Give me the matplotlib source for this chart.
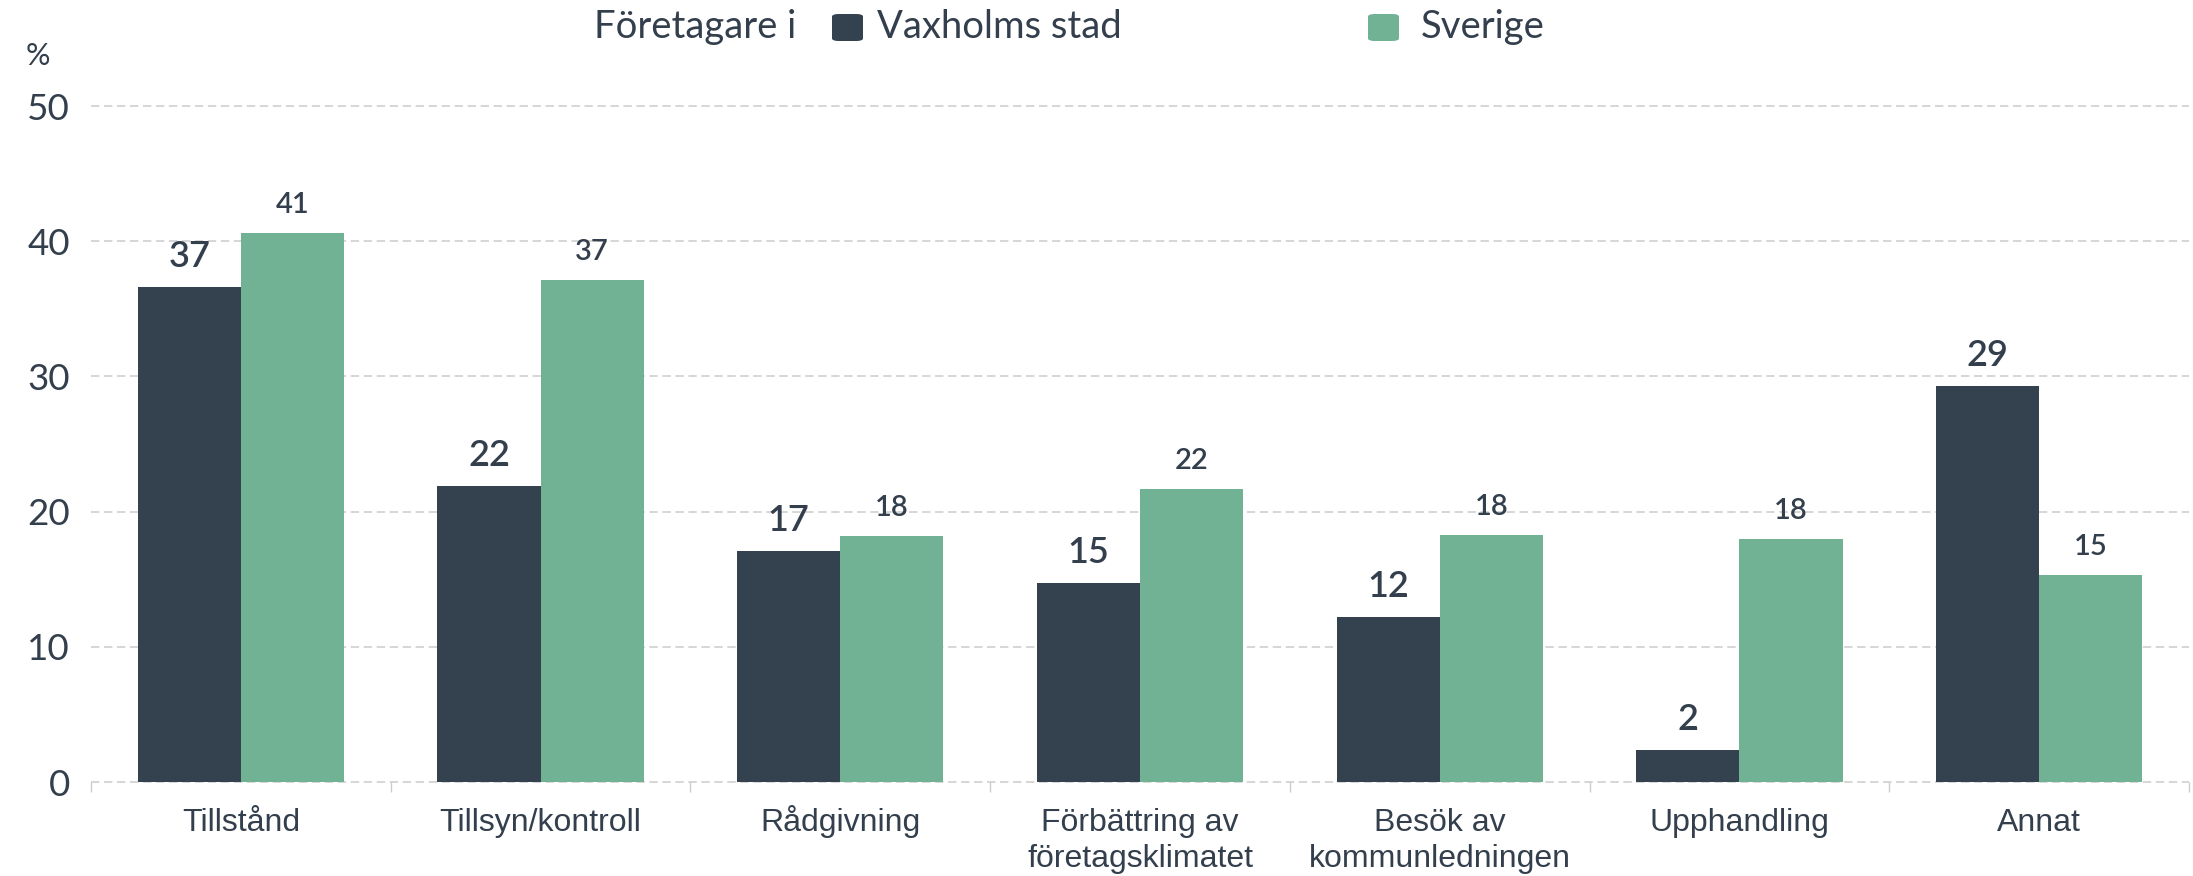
import matplotlib
matplotlib.use("Agg")
import matplotlib.pyplot as plt
from matplotlib.patches import FancyBboxPatch
import numpy as np

categories = ["Tillstånd", "Tillsyn/kontroll", "Rådgivning", "Förbättring av\nföretagsklimatet",
              "Besök av\nkommunledningen", "Upphandling", "Annat"]
series_names = ["Vaxholms stad", "Sverige"]
vaxholm = [36.6, 21.9, 17.1, 14.7, 12.2, 2.4, 29.3]
sverige = [40.6, 37.1, 18.2, 21.7, 18.3, 18.0, 15.3]
yticks = [0, 10, 20, 30, 40, 50]
legend_title = "Företagare i"
unit_label = "%"

DARK = "#34414E"
GREEN = "#71B295"
TEXT = "#333F4C"
GRID = "#CCCCCC"
NUMFONT = ["Lato", "DejaVu Sans"]

fig = plt.figure(figsize=(21.93, 8.76), dpi=100)
ax = fig.add_axes([91/2193, 1-782/876, (2189-91)/2193, (782-106)/876])

x = np.arange(len(categories))
w = 0.344
b1 = ax.bar(x - w/2, vaxholm, w, color=DARK, zorder=3)
b2 = ax.bar(x + w/2, sverige, w, color=GREEN, zorder=3)

ax.set_xlim(-0.5, len(categories) - 0.5)
ax.set_ylim(0, 50)
ax.set_yticks(yticks)
ax.set_yticklabels([str(t) for t in yticks], fontsize=26.5, color=TEXT, family=NUMFONT)
ax.tick_params(axis="y", length=0, pad=15)

ax.set_xticks(np.arange(-0.5, len(categories), 1.0))
ax.set_xticklabels([""] * (len(categories) + 1))
ax.tick_params(axis="x", length=7, width=1, color=GRID)
for i, c in enumerate(categories):
    for j, line in enumerate(c.split("\n")):
        ax.annotate(line, (i, 0), xytext=(0, -35.3 - 25.9 * j), textcoords="offset points",
                    ha="center", va="baseline", fontsize=23, color=TEXT,
                    family=["Liberation Sans", "DejaVu Sans"], annotation_clip=False)

for s in ax.spines.values():
    s.set_visible(False)
for t in yticks:
    ax.axhline(t, color=GRID, lw=1.1, linestyle=(0, (5.5, 3)), zorder=1, clip_on=False)

for rect, v in zip(b1, vaxholm):
    ax.annotate(f"{v:.0f}", (rect.get_x() + rect.get_width()/2, v), xytext=(0, 14.4),
                textcoords="offset points", ha="center", va="baseline", fontsize=26,
                fontweight="semibold", color=TEXT, family=NUMFONT)
for rect, v in zip(b2, sverige):
    ax.annotate(f"{v:.0f}", (rect.get_x() + rect.get_width()/2, v), xytext=(0, 14.4),
                textcoords="offset points", ha="center", va="baseline", fontsize=21,
                fontweight="semibold", color=TEXT, family=NUMFONT)

fig.text(38/2193, 1-56/876, unit_label, ha="center", va="center", fontsize=22, color=TEXT,
         family=NUMFONT)

# legend
ly = 1 - 27/876
fig.text(594/2193, ly, legend_title, ha="left", va="center", fontsize=27.5, color=TEXT,
         family=NUMFONT)
for (x0, name, col, tx) in [(832, series_names[0], DARK, 877), (1368, series_names[1], GREEN, 1421)]:
    p = FancyBboxPatch((x0/2193, ly - 14/876), 31/2193, 27/876,
                       boxstyle="round,pad=0,rounding_size=0.003", transform=fig.transFigure,
                       facecolor=col, edgecolor="none")
    fig.patches.append(p)
    fig.text(tx/2193, ly, name, ha="left", va="center", fontsize=27.5, color=TEXT,
             family=NUMFONT)

fig.savefig("out.png", dpi=100)
